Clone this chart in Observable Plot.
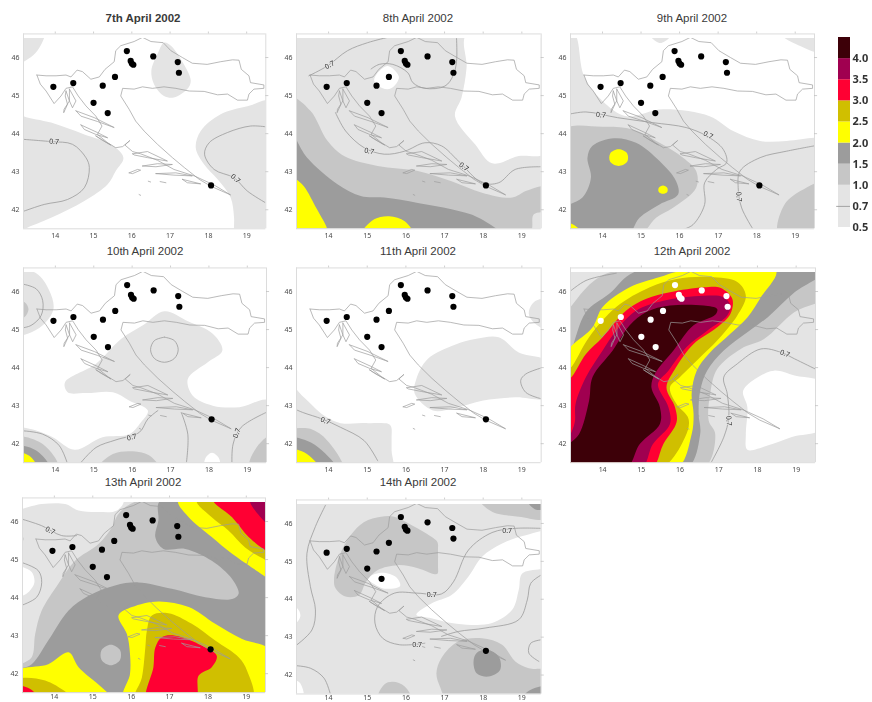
<!DOCTYPE html>
<html>
<head>
<meta charset="utf-8">
<script src="https://cdn.jsdelivr.net/npm/d3@7"></script>
<script src="https://cdn.jsdelivr.net/npm/@observablehq/plot@0.6"></script>
<style>
html,body{margin:0;padding:0;background:#fff;overflow:hidden;width:872px;height:702px;}
#page{position:relative;width:872px;height:702px;overflow:hidden;font-family:"Liberation Sans",Arial,sans-serif;}
#page svg{position:absolute;filter:blur(0.45px);background:transparent;}
.ttl{position:absolute;width:160px;text-align:center;font-size:11.5px;line-height:14px;color:#3a3a3a;}
</style>
</head>
<body>
<div id="page"></div>
<script>
// ---- legend -----
const legendLevels = ["L05","L07","L10","L15","L20","L25","L30","L35","L40"];
const legendColors = ["#e6e6e6","#e4e4e4","#c6c6c6","#9c9c9c","#ffff00","#d0bf00","#ff0033","#a00050","#3d0008"];
const legendTicks = ["0.5","0.7","1.0","1.5","2.0","2.5","3.0","3.5","4.0"];
const paintLevels = ["L00",...legendLevels];
const paintColors = ["#ffffff",...legendColors];

// ---- axes -----
const lonDomain = [13.17,19.5];
const latDomain = [41.5,46.5];
const frameTop = 46.62;
const lonTicks = [14,15,16,17,18,19];
const latTicks = [42,43,44,45,46];

// ---- stations (lon, lat) -----
const stations = [[13.95,45.23],[14.47,45.33],[15.24,45.26],[15.56,45.49],[15.0,44.81],[15.37,44.54],[15.87,46.17],[15.97,45.91],[16.0,45.84],[16.04,45.81],[16.56,46.03],[17.2,45.88],[17.23,45.6]];
const southStation = [[18.07,42.64]];

// ---- Croatia outline and islands (lon, lat) -----
const outline = [[13.52,45.54],[13.76,45.52],[14.02,45.52],[14.28,45.54],[14.41,45.49],[14.57,45.67],[14.71,45.63],[14.93,45.43],[15.15,45.49],[15.3,45.69],[15.54,45.89],[15.58,46.18],[15.71,46.31],[16.06,46.42],[16.28,46.53],[16.5,46.42],[16.82,46.39],[17.02,46.18],[17.32,46.0],[17.58,45.85],[17.97,45.82],[18.32,45.89],[18.63,45.94],[18.8,45.93],[18.86,45.69],[19.06,45.52],[19.1,45.34],[19.45,45.28],[19.45,45.19],[19.19,45.17],[19.06,45.04],[19.02,44.88],[18.76,44.88],[18.5,45.04],[18.24,45.02],[17.89,45.11],[17.5,45.12],[17.15,45.19],[16.84,45.23],[16.54,45.19],[16.28,45.23],[16.06,45.17],[15.76,45.19],[15.71,44.99],[15.93,44.64],[16.1,44.33],[16.32,44.07],[16.67,43.72],[17.06,43.37],[17.37,43.11],[17.76,42.8],[18.06,42.62],[18.58,42.39],[18.15,42.65],[17.63,42.89],[17.1,43.06],[16.67,43.3],[16.23,43.47],[16.02,43.53],[15.82,43.7],[15.95,43.82],[15.76,43.66],[15.58,43.63],[15.37,43.76],[15.1,43.98],[15.22,44.2],[15.06,44.46],[14.8,44.73],[14.6,44.99],[14.45,45.23],[14.28,45.19],[14.15,44.99],[13.97,44.79],[13.76,45.12],[13.61,45.3],[13.52,45.54]];
const islands = [
 [[14.28,45.12],[14.37,44.86],[14.23,44.64],[14.22,44.55],[14.32,44.77],[14.26,44.99],[14.28,45.12]],
 [[14.37,45.17],[14.54,44.86],[14.45,44.68],[14.37,44.86],[14.37,45.17]],
 [[14.54,44.6],[15.02,44.42],[15.54,44.16],[15.1,44.32],[14.67,44.46],[14.54,44.6]],
 [[14.67,44.23],[15.1,44.03],[15.37,43.89],[15.06,43.98],[14.76,44.11],[14.67,44.23]],
 [[15.06,43.94],[15.45,43.7],[15.19,43.85],[15.06,43.94]],
 [[16.02,43.47],[16.41,43.53],[16.93,43.28],[16.41,43.37],[16.06,43.44],[16.02,43.47]],
 [[16.28,43.15],[16.67,43.21],[17.06,43.19],[16.63,43.13],[16.28,43.15]],
 [[16.63,42.95],[17.15,42.97],[17.58,42.89],[17.1,42.91],[16.63,42.95]],
 [[17.32,42.8],[17.8,42.68],[17.45,42.71],[17.32,42.8]],
 [[15.93,42.97],[16.15,43.06],[16.23,43.04],[16.02,42.95],[15.93,42.97]],
 [[16.74,42.74],[16.89,42.71]],
 [[16.43,42.75],[16.49,42.73]],
 [[16.19,42.4],[16.23,42.38]]
];

const everywhere = [[12.9,41.3],[12.9,46.7],[19.8,46.7],[19.8,41.3]];

// ---- 7th April -----
const fills07 = [
 ["L07",[[13.0,46.7],[13.72,46.7],[13.58,46.25],[13.35,46.0],[13.0,45.85]]],
 ["L07",[[12.9,44.6],[13.17,44.46],[13.89,44.29],[14.76,43.98],[15.45,43.72],[15.78,43.37],[15.58,43.02],[15.37,42.67],[14.76,42.23],[13.89,41.79],[13.17,41.48],[12.9,41.3]]],
 ["L07",[[19.7,44.85],[19.02,44.72],[18.32,44.51],[17.8,44.07],[17.67,43.63],[17.89,43.19],[18.24,42.8],[18.58,42.32],[18.67,41.8],[18.67,41.4],[18.7,41.3],[19.7,41.3]]],
 ["L07",[[16.84,46.39],[17.02,46.31],[17.32,45.89],[17.54,45.39],[17.45,45.17],[17.1,44.95],[16.84,44.99],[16.58,45.3],[16.51,45.65],[16.67,46.09]]]
];
const lines07 = [
 [[13.17,43.85],[13.89,43.79],[14.45,43.72],[14.8,43.37],[14.89,43.11],[14.76,42.58],[14.32,42.27],[13.71,42.14],[13.17,41.96]],
 [[19.5,44.18],[19.1,44.2],[18.5,44.03],[18.02,43.76],[17.9,43.46],[18.15,43.06],[18.67,42.84],[19.02,42.49],[19.5,42.18]]
];
const labels07 = [[13.97,43.79,5],[18.71,42.82,40]];

// ---- 8th April -----
const fills08 = [
 ["L07",everywhere],
 ["L00",[[17.57,46.61],[19.62,46.61],[19.62,43.5],[18.92,43.41],[18.23,43.22],[17.79,43.72],[17.27,44.46],[17.44,44.95],[17.57,45.74]]],
 ["L00",[[15.27,45.6],[15.53,45.78],[15.82,45.49],[15.62,45.19],[15.4,45.19],[15.18,45.39]]],
 ["L10",[[13.01,44.95],[13.53,44.6],[13.97,43.81],[14.4,43.41],[15.27,43.15],[16.31,43.02],[17.18,42.75],[17.97,42.45],[18.75,42.32],[19.1,42.49],[19.5,42.62],[19.7,42.62],[19.7,42.0],[19.31,41.88],[19.18,41.35],[13.01,41.35]]],
 ["L15",[[13.01,44.03],[13.44,43.37],[14.23,42.67],[14.83,42.36],[15.44,42.32],[16.31,42.18],[17.18,42.01],[17.88,41.79],[18.44,41.35],[13.01,41.35]]],
 ["L20",[[13.01,42.93],[13.12,42.84],[13.36,42.62],[13.7,42.01],[13.97,41.48],[13.97,41.35],[13.01,41.35]]],
 ["L20",[[14.85,41.35],[15.18,41.75],[15.57,41.83],[15.97,41.7],[16.18,41.35]]]
];
const lines08 = [
 [[13.49,45.52],[13.97,45.78],[14.49,46.18],[15.01,46.39],[15.53,46.53]],
 [[17.31,46.5],[17.31,45.9],[17.22,45.52],[17.01,45.25],[16.49,45.19],[16.18,45.34],[16.05,45.6],[15.66,45.82],[15.31,45.82],[15.1,45.7]],
 [[14.18,44.55],[14.44,44.07],[14.92,43.63],[15.44,43.46],[15.97,43.54],[16.49,43.76],[16.92,43.68],[17.36,43.28],[17.97,42.71],[18.4,42.71],[18.83,43.06],[19.5,43.13]]
];
const labels08 = [[14.03,45.8,-30],[15.05,43.54,10],[17.5,43.13,35]];

// ---- 9th April -----
const fills09 = [
 ["L07",[[13.13,46.61],[13.3,46.57],[13.52,45.52],[14,44.86],[14.61,44.46],[15.57,44.64],[16.78,44.46],[17.39,44.07],[18.09,43.81],[18.78,43.81],[19.5,43.89],[19.74,43.89],[19.74,41.35],[12.96,41.35],[12.96,46.61]]],
 ["L07",[[15.26,46.55],[15.75,46.55],[15.5,46.38]]],
 ["L07",[[18.7,46.55],[19.6,46.55],[19.6,46.15],[19.2,46.27]]],
 ["L10",[[12.96,44.07],[14,44.18],[14.78,44.11],[15.48,43.76],[16.09,43.37],[16.43,43.02],[16.43,42.58],[15.83,42.05],[15.39,41.79],[14.96,41.35],[12.96,41.35]]],
 ["L10",[[19.74,42.71],[19.13,42.49],[18.7,42.1],[18.57,41.35],[19.74,41.35]]],
 ["L15",[[13.61,43.37],[13.74,43.68],[14.3,43.88],[14.87,43.76],[15.48,43.28],[15.91,42.75],[15.96,42.4],[15.48,42.14],[14.96,41.79],[14.65,41.35],[12.96,41.35],[12.96,42.0],[13.48,42.32],[13.7,42.84]]],
 ["L20",[[14.42,43.59],[14.64,43.48],[14.64,43.26],[14.42,43.15],[14.2,43.26],[14.2,43.48]]],
 ["L20",[[15.57,42.64],[15.68,42.58],[15.68,42.47],[15.57,42.42],[15.46,42.47],[15.46,42.58]]],
 ["L20",[[12.96,41.65],[13.26,41.6],[13.52,41.3],[12.96,41.3]]]
];
const lines09 = [
 [[13.13,44.51],[13.57,44.57],[14.39,44.42],[15.3,44.29],[16.17,44.16],[16.7,43.94],[17.13,43.59],[17.22,43.24],[16.96,43.06],[16.65,42.71],[16.65,42.14],[16.35,41.61],[16.09,41.48]],
 [[19.5,43.68],[18.78,43.54],[18.09,43.37],[17.57,43.02],[17.52,42.58],[17.61,42.05],[17.91,41.48]]
];
const labels09 = [[13.96,44.49,5],[16.74,43.96,25],[17.54,42.34,85]];

// ---- 10th April -----
const fills10 = [
 ["L07",[[12.95,46.55],[13.5,46.48],[13.84,46.03],[13.95,45.54],[13.67,45.11],[13.28,44.89],[12.97,44.87]]],
 ["L10",[[13.0,45.75],[13.2,45.72],[13.3,45.54],[13.2,45.33],[13.0,45.3]]],
 ["L07",[[16.84,45.48],[17.41,45.24],[18.1,44.89],[18.35,44.45],[17.97,44.14],[17.45,43.7],[17.58,43.26],[18.1,43.0],[18.8,42.96],[19.58,43.13],[19.58,41.29],[12.97,41.29],[12.97,42.39],[13.32,42.39],[13.93,42.17],[14.5,41.84],[15.23,42.17],[15.93,42.25],[16.23,42.56],[16.41,42.87],[15.93,43.13],[15.5,43.35],[14.8,43.33],[14.32,43.35],[14.25,43.61],[15.06,44.1],[15.71,44.75],[16.28,45.11]]],
 ["L00",[[17.9,41.4],[17.9,41.6],[18.08,41.76],[18.27,41.6],[18.27,41.4]]],
 ["L10",[[15.15,41.4],[15.5,41.73],[16.02,41.8],[16.45,41.69],[16.67,41.4]]],
 ["L10",[[19.6,42.2],[19.24,41.9],[19.06,41.4],[19.6,41.3]]],
 ["L10",[[12.95,42.16],[13.67,41.99],[14.08,41.35],[12.95,41.3]]],
 ["L15",[[12.95,41.92],[13.5,41.82],[13.88,41.3],[12.95,41.3]]],
 ["L20",[[12.95,41.77],[13.32,41.68],[13.55,41.3],[12.95,41.3]]]
];
const lines10 = [
 [[13.13,46.2],[13.5,46.07],[13.67,45.76],[13.63,45.37],[13.37,45.11],[13.13,45.04]],
 [[16.84,44.8],[17.1,44.71],[17.2,44.47],[17.1,44.24],[16.84,44.14],[16.58,44.24],[16.48,44.47],[16.58,44.71],[16.84,44.8]],
 [[14.63,41.46],[15.06,41.9],[15.58,42.1],[16.19,42.3],[16.41,42.65],[16.67,42.87]],
 [[17.28,42.82],[17.45,42.25],[17.41,41.46]],
 [[18.6,41.46],[18.63,41.99],[18.84,42.43],[19.49,42.82]],
 [[13.13,42.34],[13.67,42.25],[14.1,41.95],[14.32,41.46]]
];
const labels10 = [[15.99,42.17,-15],[18.73,42.28,-70]];

// ---- 11th April -----
const fills11 = [
 ["L07",[[18.4,44.8],[18.92,44.4],[19.7,44.14],[19.7,43.22],[18.83,43.22],[17.97,43.13],[17.27,42.94],[16.7,42.87],[16.23,43.31],[16.27,43.7],[16.57,44.23],[17.27,44.6],[17.79,44.75]]],
 ["L07",[[19.7,45.8],[19.31,45.72],[19.18,45.41],[19.35,45.15],[19.7,45.0]]],
 ["L07",[[12.97,43.57],[13.36,43.22],[13.88,42.74],[14.31,42.54],[15.01,42.54],[15.55,42.52],[15.6,42.48],[15.63,42.4],[15.63,42.17],[15.63,41.82],[15.63,41.29],[12.97,41.29]]],
 ["L10",[[12.97,42.43],[13.12,42.41],[13.53,42.39],[13.97,42.08],[14.38,41.29],[12.97,41.29]]],
 ["L15",[[12.97,42.14],[13.44,42.08],[13.83,41.82],[14.23,41.29],[12.97,41.29]]],
 ["L20",[[12.97,41.85],[13.44,41.73],[13.79,41.29],[12.97,41.29]]]
];
const lines11 = [
 [[13.12,42.91],[13.36,42.81],[13.83,42.65],[14.31,42.43],[14.92,42.08],[15.27,41.55]],
 [[19.5,43.99],[19.1,43.83],[18.97,43.66],[19.1,43.35],[19.5,43.18]]
];
const labels11 = [[13.92,42.6,20]];

// ---- 12th April -----
const fills12 = [
 ["L07",everywhere],
 ["L00",[[18.43,43.92],[18.96,43.79],[19.74,43.57],[19.74,42.43],[18.87,42.17],[18.26,41.95],[17.74,41.84],[17.7,42.25],[17.74,42.96],[17.63,43.39],[18.0,43.74]]],
 ["L10",[[12.96,45.32],[13.13,45.54],[13.74,46.25],[14.35,46.55],[19.74,46.55],[19.74,45.85],[18.96,45.46],[18.17,44.75],[17.57,44.49],[16.96,43.96],[16.78,43.31],[16.74,42.61],[16.91,42.25],[16.57,41.29],[12.96,41.29]]],
 ["L15",[[12.96,44.14],[13.13,44.32],[13.57,45.46],[14.17,45.94],[14.91,46.55],[19.74,46.55],[18.96,45.98],[18.26,45.32],[17.74,44.93],[17.13,44.45],[16.7,43.92],[16.52,43.39],[16.48,42.78],[16.52,42.25],[16.13,41.29],[12.96,41.29]]],
 ["L20",[[12.96,44.23],[13.74,45.06],[14,45.59],[14.7,46.11],[15.48,46.38],[16.09,46.55],[18.48,46.55],[18.09,45.85],[17.74,45.32],[17.3,44.89],[16.74,44.36],[16.43,43.92],[16.3,43.31],[16.35,42.78],[16.3,42.25],[15.87,41.29],[12.96,41.29]]],
 ["L25",[[12.96,43.96],[13.13,43.96],[13.65,44.8],[14.35,45.59],[15.22,46.11],[15.91,46.33],[16.78,46.38],[17.48,46.25],[17.7,45.89],[17.48,45.37],[16.96,44.71],[16.52,44.27],[16.0,43.75],[15.74,43.48],[15.91,43.04],[16.22,42.65],[16.13,42.17],[15.43,41.29],[12.96,41.29]]],
 ["L30",[[12.96,43.75],[13.13,43.7],[13.57,44.36],[14,44.8],[14.61,45.5],[15.13,45.81],[15.74,45.98],[16.61,46.11],[17.04,46.1],[17.35,45.81],[17.3,45.41],[16.96,45.06],[16.35,44.62],[15.87,43.96],[15.65,43.48],[15.87,42.96],[15.91,42.56],[15.57,41.99],[15.22,41.29],[12.96,41.29]]],
 ["L35",[[12.96,41.95],[13.13,42.17],[13.28,42.56],[13.3,43.04],[13.57,43.75],[14,44.45],[14.35,44.97],[14.87,45.5],[15.57,45.76],[16.61,45.89],[17.13,45.85],[17.3,45.63],[17.22,45.37],[16.7,44.97],[16.17,44.54],[15.7,43.92],[15.43,43.57],[15.7,42.96],[15.74,42.52],[15.3,41.99],[14.96,41.29],[12.96,41.29]]],
 ["L40",[[13.13,41.99],[13.39,42.25],[13.65,43.13],[13.74,43.75],[14.26,44.45],[14.7,45.11],[15.13,45.46],[15.74,45.63],[16.61,45.63],[16.96,45.54],[16.91,45.39],[16.35,45.11],[15.83,44.45],[15.35,43.83],[15.26,43.48],[15.48,42.96],[15.48,42.52],[14.96,41.99],[14.57,41.29],[12.96,41.29],[12.96,41.82]]]
];
const lines12 = [
 [[13.13,45.98],[13.57,46.29],[14.35,46.48]],
 [[19.5,43.96],[18.96,44.23],[18.61,44.4],[18.09,44.49],[17.48,44.1],[17.13,43.75],[17.22,43.31],[17.26,42.69],[17.13,42.17],[16.78,41.46]]
];
const labels12 = [[18.71,44.37,20],[17.26,42.6,85]];

// ---- 13th April -----
const fills13 = [
 ["L07",everywhere],
 ["L00",[[12.97,46.33],[13.67,46.46],[14.28,46.46],[14.63,46.29],[15.15,46.25],[15.63,46.29],[15.8,46.55],[12.97,46.55]]],
 ["L00",[[12.97,44.84],[13.19,44.8],[13.41,44.67],[13.48,44.4],[13.32,44.14],[13.13,44.03],[12.97,44.01]]],
 ["L10",[[13.0,45.7],[13.2,45.55],[13.0,45.3]]],
 ["L10",[[12.97,42.17],[13.13,42.25],[13.41,42.43],[13.5,43.04],[13.67,43.66],[14.1,44.36],[14.54,44.97],[15.15,45.41],[15.5,45.85],[15.67,46.2],[16.19,46.55],[19.58,46.55],[19.58,41.29],[12.97,41.29]]],
 ["L15",[[12.97,42.04],[13.41,42.25],[13.84,42.87],[14.37,43.66],[14.89,44.05],[15.58,44.32],[16.19,44.4],[17.06,44.23],[17.93,44.01],[18.63,43.96],[18.8,44.1],[18.63,44.49],[18.1,44.97],[17.41,45.28],[16.84,45.28],[16.63,45.59],[16.71,46.03],[16.76,46.55],[19.58,46.55],[19.58,41.29],[12.97,41.29]]],
 ["L10",[[15.47,42.76],[15.71,42.62],[15.71,42.36],[15.47,42.22],[15.23,42.36],[15.23,42.62]]],
 ["L20",[[17.23,46.55],[17.5,46.11],[18.1,45.59],[18.63,45.15],[19.45,44.58],[19.63,44.45],[19.63,46.55]]],
 ["L25",[[17.71,46.55],[18.1,46.11],[18.54,45.76],[18.97,45.32],[19.45,45.02],[19.63,44.93],[19.63,46.55]]],
 ["L30",[[18.15,46.55],[18.63,46.11],[19.06,45.59],[19.45,45.28],[19.63,45.19],[19.63,46.55]]],
 ["L35",[[19.1,46.55],[19.45,46.03],[19.63,45.89],[19.63,46.55]]],
 ["L20",[[15.67,43.53],[16.02,43.75],[16.71,43.9],[17.5,43.75],[18.19,43.31],[18.89,42.91],[19.63,42.61],[19.63,41.29],[15.8,41.29],[15.97,41.99],[15.97,42.52],[15.89,43.04]]],
 ["L25",[[16.1,41.29],[16.28,41.9],[16.37,42.69],[16.41,43.13],[16.54,43.53],[16.97,43.59],[17.58,43.31],[18.19,42.87],[18.8,42.43],[19.02,42.08],[19.15,41.29]]],
 ["L30",[[16.41,41.29],[16.58,42.17],[16.63,42.69],[16.8,42.96],[17.15,43.0],[17.84,42.74],[18.23,42.47],[18.1,42.17],[17.76,41.95],[17.67,41.29]]],
 ["L20",[[12.97,42.04],[13.84,42.25],[14.37,42.56],[14.63,42.17],[15.23,41.64],[15.54,41.29],[12.97,41.29]]],
 ["L25",[[12.97,41.82],[13.76,41.82],[14.5,41.29],[12.97,41.29]]],
 ["L30",[[12.97,41.68],[13.37,41.6],[13.63,41.29],[12.97,41.29]]]
];
const lines13 = [
 [[13.13,46.07],[13.67,45.89],[14.19,45.63],[14.58,45.63]],
 [[13.13,44.93],[13.58,44.71],[13.67,44.4],[13.54,44.01],[13.13,43.79]]
];
const labels13 = [[13.89,45.76,25]];

// ---- 14th April -----
const fills14 = [
 ["L07",everywhere],
 ["L00",[[19.7,45.78],[19.1,45.69],[18.49,45.47],[17.97,45.12],[17.62,44.6],[17.18,44.11],[16.66,43.89],[16.27,43.59],[16.66,43.5],[17.18,43.37],[17.7,43.32],[18.23,43.37],[18.75,43.72],[18.92,44.25],[19.01,44.68],[19.7,44.9]]],
 ["L00",[[15.01,44.55],[15.36,44.7],[15.75,44.58],[15.85,44.35],[15.44,44.28],[15.18,44.4]]],
 ["L00",[[13.0,43.85],[13.2,43.75],[13.27,43.55],[13.1,43.3],[13.0,43.25]]],
 ["L00",[[13.0,41.85],[13.25,41.8],[13.35,41.3],[13.0,41.3]]],
 ["L10",[[14.14,44.51],[14.27,45.12],[14.57,45.69],[14.92,46.04],[15.36,46.18],[15.7,46.18],[16.14,45.96],[16.7,45.62],[16.82,45.5],[16.83,45.3],[16.83,44.9],[16.82,44.68],[16.75,44.66],[16.31,44.82],[15.79,44.9],[15.27,44.77],[14.97,44.46],[14.79,44.11],[14.44,44.07],[14.18,44.29]]],
 ["L10",[[17.92,46.61],[18.23,46.31],[18.92,46.18],[19.7,46.13],[19.7,46.61]]],
 ["L15",[[19.15,46.6],[19.35,46.37],[19.7,46.42],[19.7,46.6]]],
 ["L10",[[16.79,42.05],[16.92,42.45],[17.36,42.89],[17.97,42.97],[18.49,42.8],[18.83,42.36],[19.18,42.18],[19.7,42.1],[19.7,41.35],[17.09,41.35],[16.88,41.7]]],
 ["L15",[[18.1,42.67],[18.4,42.49],[18.44,42.14],[18.14,41.96],[17.83,42.05],[17.75,42.36],[17.83,42.58]]],
 ["L15",[[18.97,41.35],[19.23,41.61],[19.7,41.7],[19.7,41.35]]],
 ["L10",[[15.27,41.35],[15.44,41.75],[15.66,41.82],[15.97,41.7],[16.14,41.35]]]
];
const lines14 = [
 [[13.92,46.48],[13.66,45.92],[13.44,45.21],[13.53,44.33],[13.66,43.72],[13.57,43.19],[13.12,42.75]],
 [[19.5,45.87],[18.83,45.87],[18.23,45.76],[17.62,45.3],[17.23,44.46],[16.92,44.14],[16.31,44.16],[15.7,44.16],[15.27,43.81],[15.2,43.37],[15.4,42.97],[15.83,42.8],[16.49,42.84]],
 [[19.5,44.64],[19.23,44.42],[19.14,43.98],[18.92,43.46],[18.05,43.24],[17.36,43.15],[16.92,43.02]],
 [[13.12,42.25],[13.53,42.18],[13.88,41.92],[14.05,41.48]],
 [[19.5,42.93],[19.23,42.84],[19.18,42.58],[19.44,42.36]]
];
const labels14 = [[18.62,45.8,0],[16.67,44.12,0],[16.29,42.8,0]];

const titles = ["7th April 2002","8th April 2002","9th April 2002","10th April 2002","11th April 2002","12th April 2002","13th April 2002","14th April 2002"];

// layout only
const boxes = [[22.7,265,37.7,228,143,11],[296,540.7,37.7,228,418,11],[570,814,37.7,228,692,11],[23,266,271.5,461.7,145,244],[296,540.7,271.5,461.7,418,244],[570,815,271.5,461.7,692,244],[22,265,501.5,691.7,143,475],[296,540.7,503.5,693,418,475]];
const panels = [
 [fills07,lines07,labels07],[fills08,lines08,labels08],[fills09,lines09,labels09],[fills10,lines10,labels10],
 [fills11,lines11,labels11],[fills12,lines12,labels12],[fills13,lines13,labels13],[fills14,lines14,labels14]
];

const page = document.getElementById("page");
const X = d => d[0], Y = d => d[1];
const frameColor = "#dcdcdc";

panels.forEach(([fills,lines,labels],k) => {
  const [L,R,T,B,cx,ty] = boxes[k];
  const mL=24, mR=8, mT=8, mB=12;
  const bright = k===5;
  const pad = k>=6 ? 1.5 : 4;
  const marks = [];
  fills.forEach(([level,pts]) => marks.push(Plot.line(pts,{x:X,y:Y,fill:()=>level,stroke:"none",curve:"catmull-rom-closed",clip:true})));
  lines.forEach(pts => marks.push(Plot.line(pts,{x:X,y:Y,stroke:"#9a9a9a",strokeWidth:0.8,curve:"catmull-rom",clip:true})));
  [outline,...islands].forEach(pts => marks.push(Plot.line(pts,{x:X,y:Y,stroke:"#9c9c9c",strokeWidth:0.7,curve:"linear",clip:true})));
  labels.forEach(d => marks.push(Plot.text([d],{x:X,y:Y,text:()=>"0.7",rotate:d[2],fontSize:7,fill:"#333",stroke:"#e6e6e6",strokeWidth:1.5})));
  marks.push(Plot.dot(stations,{x:X,y:Y,r:3.1,fill:bright?"#ffffff":"#000000",stroke:"none"}));
  if(!bright) marks.push(Plot.dot(southStation,{x:X,y:Y,r:3.1,fill:"#000000",stroke:"none"}));
  marks.push(Plot.ruleY([frameTop,latDomain[0]],{x1:lonDomain[0],x2:lonDomain[1],stroke:frameColor,strokeWidth:1}));
  marks.push(Plot.ruleX(lonDomain,{y1:latDomain[0],y2:frameTop,stroke:frameColor,strokeWidth:1}));
  marks.push(Plot.ruleX(lonTicks,{y1:frameTop,y2:frameTop+0.05,stroke:"#bbb",strokeWidth:0.7}));
  marks.push(Plot.ruleY(latTicks,{x1:19.5,x2:19.58,stroke:"#bbb",strokeWidth:0.7}));
  marks.push(Plot.axisX(lonTicks,{tickSize:0,tickPadding:pad,fontSize:7,color:"#4a4a4a",label:null,tickFormat:d=>d}));
  marks.push(Plot.axisY(latTicks,{tickSize:0,tickPadding:4,fontSize:7,color:"#4a4a4a",label:null,tickFormat:d=>d}));
  const svg = Plot.plot({
    width:(R-L)+mL+mR, height:(B-T)+mT+mB,
    marginLeft:mL,marginRight:mR,marginTop:mT,marginBottom:mB,
    style:{background:"transparent",overflow:"visible"},
    x:{domain:lonDomain},y:{domain:latDomain},
    color:{type:"ordinal",domain:paintLevels,range:paintColors},
    marks
  });
  svg.style.left=(L-mL)+"px"; svg.style.top=(T-mT)+"px";
  page.appendChild(svg);
  const t=document.createElement("div");
  t.className="ttl"; t.textContent=titles[k];
  t.style.left=(cx-80)+"px"; t.style.top=ty+"px";
  if(k===0) t.style.fontWeight="bold";
  page.appendChild(t);
});

// colour key
const keyBands = legendLevels.map((level,i)=>({level,y1:i,y2:i+1}));
const key = Plot.plot({
  width:36,height:208,marginLeft:1,marginRight:23,marginTop:4,marginBottom:14,
  style:{background:"transparent",overflow:"visible"},
  x:{domain:[0,1],axis:null},y:{domain:[0,9]},
  color:{type:"ordinal",domain:legendLevels,range:legendColors},
  marks:[
    Plot.rect(keyBands,{x1:0,x2:1,y1:"y1",y2:"y2",fill:"level"}),
    Plot.ruleY([1],{x1:-0.15,x2:1,stroke:"#8f8f8f",strokeWidth:0.8}),
    Plot.axisY(d3.range(0,9),{anchor:"right",tickSize:0,tickPadding:2,fontSize:11,fontWeight:"bold",color:"#333",label:null,tickFormat:i=>legendTicks[i]})
  ]
});
key.style.left="836.5px"; key.style.top="33px";
page.appendChild(key);
</script>
</body>
</html>
